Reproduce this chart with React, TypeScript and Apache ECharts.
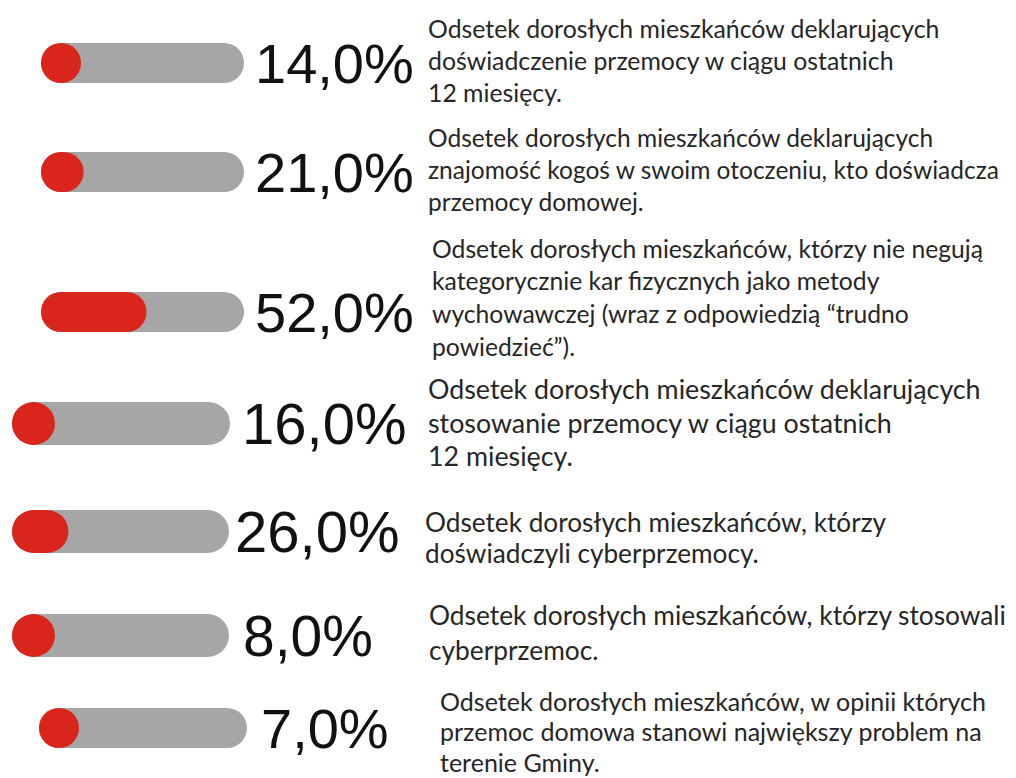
import React, { useEffect, useRef } from "react";
import * as echarts from "echarts";

// ---- data ----
const values: number[] = [14, 21, 52, 16, 26, 8, 7];
const valueLabels: string[] = values.map((v) => v.toFixed(1).replace(".", ",") + "%");
const descriptions: string[][] = [
  ["Odsetek dorosłych mieszkańców deklarujących", "doświadczenie przemocy w ciągu ostatnich", "12 miesięcy."],
  ["Odsetek dorosłych mieszkańców deklarujących", "znajomość kogoś w swoim otoczeniu, kto doświadcza", "przemocy domowej."],
  ["Odsetek dorosłych mieszkańców, którzy nie negują", "kategorycznie kar fizycznych jako metody", "wychowawczej (wraz z odpowiedzią “trudno", "powiedzieć”)."],
  ["Odsetek dorosłych mieszkańców deklarujących", "stosowanie przemocy w ciągu ostatnich", "12 miesięcy."],
  ["Odsetek dorosłych mieszkańców, którzy", "doświadczyli cyberprzemocy."],
  ["Odsetek dorosłych mieszkańców, którzy stosowali", "cyberprzemoc."],
  ["Odsetek dorosłych mieszkańców, w opinii których", "przemoc domowa stanowi największy problem na", "terenie Gminy."],
];

// ---- layout (positions / sizes) ----
const barLayout = [
  { left: 41, top: 43, width: 203, height: 40, labelMargin: 11, labelSize: 56 },
  { left: 41, top: 152, width: 203, height: 40, labelMargin: 11, labelSize: 56 },
  { left: 41, top: 292, width: 203, height: 40, labelMargin: 11, labelSize: 56 },
  { left: 12, top: 402, width: 218, height: 43, labelMargin: 12, labelSize: 58 },
  { left: 12, top: 510, width: 217, height: 43, labelMargin: 6, labelSize: 58 },
  { left: 12, top: 614, width: 217, height: 43, labelMargin: 14, labelSize: 57 },
  { left: 39, top: 708, width: 208, height: 40, labelMargin: 14, labelSize: 56 },
];
const textLayout = [
  { x: 428, size: 24.8, ys: [28, 60, 92] },
  { x: 428, size: 24.5, ys: [137, 169, 201] },
  { x: 432, size: 24.7, ys: [248, 280, 313, 346] },
  { x: 428, size: 26.8, ys: [389, 423, 456] },
  { x: 425, size: 26.2, ys: [522, 553] },
  { x: 429, size: 26.3, ys: [615, 650] },
  { x: 440, size: 25, ys: [701, 731, 762] },
];

const RED = "#da251d";
const GRAY = "#a6a6a6";

export default function App() {
  const ref = useRef<HTMLDivElement>(null);
  useEffect(() => {
    if (!ref.current) return;
    const chart = echarts.init(ref.current, undefined, { renderer: "svg" });
    const grid: any[] = [];
    const xAxis: any[] = [];
    const yAxis: any[] = [];
    const series: any[] = [];
    values.forEach((v, i) => {
      const L = barLayout[i];
      const r = L.height / 2;
      grid.push({ left: L.left, top: L.top, width: L.width, height: L.height });
      xAxis.push({ type: "value", gridIndex: i, min: 0, max: 100, show: false });
      yAxis.push({ type: "category", gridIndex: i, data: [String(i)], show: false });
      yAxis.push({
        type: "category",
        gridIndex: i,
        position: "right",
        data: [valueLabels[i]],
        axisLine: { show: false },
        axisTick: { show: false },
        splitLine: { show: false },
        axisLabel: {
          margin: L.labelMargin,
          fontSize: L.labelSize,
          fontFamily: "Liberation Sans",
          color: "#111111",
        },
      });
      series.push({
        type: "bar",
        xAxisIndex: i,
        yAxisIndex: 2 * i,
        data: [v],
        barWidth: L.height,
        barMinHeight: L.height,
        showBackground: true,
        backgroundStyle: { color: GRAY, borderRadius: r },
        itemStyle: { color: RED, borderRadius: r },
      });
    });
    const graphic: any[] = [];
    descriptions.forEach((lines, i) => {
      const T = textLayout[i];
      lines.forEach((line, j) => {
        graphic.push({
          type: "text",
          x: T.x,
          y: T.ys[j],
          style: {
            text: line,
            fontSize: T.size,
            fontFamily: "Lato",
            fill: "#262626",
            verticalAlign: "middle",
          },
        });
      });
    });
    chart.setOption({
      animation: false,
      backgroundColor: "#ffffff",
      grid,
      xAxis,
      yAxis,
      series,
      graphic,
    });
    return () => chart.dispose();
  }, []);
  return (
    <div
      ref={ref}
      style={{ position: "fixed", left: 0, top: 0, width: 1016, height: 778 }}
    />
  );
}
